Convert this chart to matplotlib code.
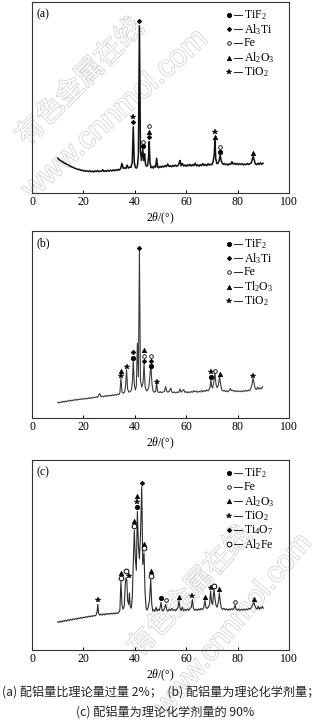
import matplotlib
matplotlib.use('Agg')
import matplotlib.pyplot as plt
import matplotlib.patheffects as pe

plt.rcParams['font.family'] = ['Liberation Serif', 'DejaVu Serif']
plt.rcParams['mathtext.fontset'] = 'custom'
plt.rcParams['mathtext.rm'] = 'Liberation Serif'
plt.rcParams['mathtext.it'] = 'Liberation Serif:italic'

# ---------------- data (2theta in degrees, relative intensity 0-100) ----------------
x_ticks = [0, 20, 40, 60, 80, 100]
x_label = r'$\mathit{2\theta}$/(°)'
panel_tags = ['(a)', '(b)', '(c)']

a_scan = [
    (10, 18.2), (10.5, 17.5), (11, 17.0), (11.5, 16.6), (12, 16.3), (12.5, 15.7), (13, 15.4), (13.5, 15.0), (14, 14.8), (14.5, 14.3),
    (15, 14.0), (15.5, 13.6), (16, 13.5), (16.5, 13.0), (17, 12.8), (17.5, 12.6), (18, 12.2), (18.5, 12.4), (19, 11.8), (19.5, 12.0),
    (20, 11.5), (20.5, 11.8), (21, 11.3), (21.5, 11.6), (22, 11.2), (22.5, 11.7), (23, 11.1), (23.5, 11.5), (24, 11.0), (24.5, 11.6),
    (25, 11.2), (25.5, 11.8), (26, 11.1), (26.5, 11.5), (27, 11.3), (27.5, 12.2), (28, 11.2), (28.5, 11.7), (29, 11.3), (29.5, 11.9),
    (30, 11.4), (30.5, 12.0), (31, 11.5), (31.5, 12.1), (32, 11.6), (32.5, 12.2), (33, 11.8), (33.5, 12.4), (34, 12.0), (34.5, 12.8),
    (35, 15.5), (35.5, 12.9), (36, 13.2), (36.5, 12.8), (37, 14.6), (37.5, 13.0), (38, 13.6), (38.5, 13.4), (39.0, 16.0), (39.4, 34.7),
    (39.8, 16.0), (40.2, 13.5), (40.6, 13.0), (41.0, 14.0), (41.4, 20.0), (41.8, 87.5), (42.2, 22.0), (42.6, 17.0), (43.1, 22.9), (43.5, 17.0),
    (43.8, 20.5), (44.2, 14.8), (44.6, 14.0), (45.0, 14.5), (45.3, 18.0), (45.6, 26.9), (45.9, 16.0), (46.3, 13.2), (46.8, 13.8), (47.2, 13.0),
    (47.7, 14.2), (48.1, 13.5), (48.5, 18.2), (48.9, 13.6), (49.3, 13.2), (49.8, 14.0), (50.3, 13.4), (50.8, 14.1), (51.3, 13.6), (51.8, 14.4),
    (52.3, 13.8), (52.8, 15.2), (53.3, 13.9), (53.8, 14.3), (54.3, 13.7), (54.8, 14.5), (55.3, 13.9), (55.8, 14.6), (56.3, 14.0), (56.8, 14.4),
    (57.3, 15.8), (57.6, 17.0), (58.0, 14.2), (58.5, 15.5), (59.0, 14.1), (59.5, 14.7), (60.0, 14.0), (60.5, 14.8), (61.0, 14.2), (61.5, 15.0),
    (62.0, 14.1), (62.5, 14.9), (63.0, 14.3), (63.5, 15.6), (64.0, 14.2), (64.5, 14.8), (65.0, 14.0), (65.5, 14.9), (66.0, 14.3), (66.5, 15.4),
    (67.0, 14.4), (67.5, 15.0), (68.0, 14.3), (68.5, 15.3), (69.0, 14.6), (69.5, 15.1), (70.0, 14.8), (70.5, 16.5), (70.9, 20.0), (71.2, 27.4),
    (71.5, 18.0), (71.9, 15.5), (72.3, 15.4), (72.8, 16.8), (73.2, 19.9), (73.6, 17.0), (74.0, 15.6), (74.4, 15.0), (74.8, 15.4), (75.3, 14.8),
    (75.8, 15.2), (76.3, 14.6), (76.8, 15.3), (77.3, 15.0), (77.8, 16.4), (78.3, 15.1), (78.8, 15.6), (79.3, 14.9), (79.8, 15.5), (80.3, 14.8),
    (80.8, 15.4), (81.3, 14.9), (81.8, 15.3), (82.3, 14.7), (82.8, 15.2), (83.3, 14.8), (83.8, 15.5), (84.3, 14.9), (84.8, 15.4), (85.3, 15.6),
    (85.8, 18.0), (86.1, 19.0), (86.5, 17.0), (86.9, 15.2), (87.4, 14.8), (87.9, 15.6), (88.4, 14.9), (88.9, 15.8), (89.4, 15.0), (89.9, 15.6),
]

b_scan = [
    (10, 8.4), (10.5, 8.0), (11, 8.6), (11.5, 8.3), (12, 8.9), (12.5, 8.5), (13, 9.1), (13.5, 8.7), (14, 9.3), (14.5, 9.0),
    (15, 9.6), (15.5, 9.1), (16, 9.7), (16.5, 9.4), (17, 10.0), (17.5, 9.5), (18, 10.1), (18.5, 9.8), (19, 10.3), (19.5, 9.9),
    (20, 10.4), (20.5, 10.1), (21, 10.6), (21.5, 10.2), (22, 10.8), (22.5, 10.4), (23, 11.0), (23.5, 10.6), (24, 11.1), (24.5, 10.9),
    (25, 11.3), (25.5, 11.0), (26, 12.5), (26.4, 13.0), (26.8, 11.4), (27.3, 11.8), (27.8, 11.3), (28.3, 11.9), (28.8, 11.5), (29.3, 12.1),
    (29.8, 11.7), (30.3, 12.2), (30.8, 11.8), (31.3, 12.4), (31.8, 12.0), (32.3, 12.6), (32.8, 12.2), (33.3, 12.8), (33.8, 12.5), (34.2, 13.5),
    (34.6, 21.3), (35.0, 14.0), (35.5, 13.2), (36.0, 13.8), (36.4, 17.0), (36.8, 25.8), (37.2, 15.5), (37.7, 13.8), (38.2, 14.2), (38.7, 15.0),
    (39.1, 20.0), (39.4, 31.2), (39.8, 18.0), (40.2, 15.0), (40.6, 17.0), (41.0, 40.1), (41.4, 22.0), (41.8, 89.5), (42.2, 20.0), (42.7, 16.5),
    (43.2, 19.0), (43.6, 29.5), (44.0, 17.0), (44.5, 14.5), (45.0, 14.8), (45.5, 17.0), (46.0, 25.0), (46.3, 26.9), (46.7, 18.0), (47.1, 14.5),
    (47.6, 13.8), (48.1, 14.2), (48.5, 18.8), (48.9, 14.0), (49.4, 13.6), (49.9, 14.1), (50.4, 13.5), (50.9, 13.9), (51.5, 14.2), (52.0, 16.8),
    (52.4, 14.3), (52.9, 13.8), (53.5, 14.5), (54.0, 16.0), (54.4, 13.9), (54.9, 13.5), (55.4, 14.0), (55.9, 13.4), (56.4, 13.9), (56.9, 13.6),
    (57.3, 14.4), (57.6, 15.6), (58.0, 13.8), (58.5, 14.5), (59.0, 15.2), (59.5, 13.7), (60.0, 14.1), (60.5, 13.5), (61.0, 14.0), (61.5, 13.6),
    (62.0, 14.2), (62.5, 13.8), (63.0, 14.6), (63.5, 14.0), (64.0, 14.4), (64.5, 13.7), (65.0, 14.3), (65.5, 13.9), (66.0, 14.7), (66.5, 14.0),
    (67.0, 14.8), (67.5, 14.2), (68.0, 15.0), (68.5, 14.5), (69.0, 15.4), (69.3, 16.5), (69.6, 20.4), (69.9, 17.0), (70.3, 16.0), (70.8, 20.0),
    (71.2, 24.0), (71.6, 18.0), (72.0, 16.2), (72.5, 17.5), (73.0, 22.2), (73.4, 18.0), (73.8, 15.2), (74.3, 14.4), (74.8, 14.8), (75.3, 14.1),
    (75.8, 14.6), (76.3, 14.0), (76.8, 14.9), (77.2, 15.8), (77.6, 14.6), (78.1, 14.9), (78.6, 14.2), (79.1, 14.7), (79.6, 14.0), (80.1, 14.6),
    (80.6, 14.1), (81.1, 14.5), (81.6, 14.0), (82.1, 14.6), (82.6, 14.2), (83.1, 14.8), (83.6, 14.3), (84.1, 14.9), (84.6, 14.5), (85.1, 15.6),
    (85.6, 18.0), (86.0, 21.3), (86.4, 18.5), (86.8, 16.0), (87.3, 15.2), (87.8, 16.5), (88.3, 15.4), (88.8, 16.2), (89.3, 15.6), (89.7, 16.8),
]

c_scan = [
    (10, 14.9), (10.5, 14.5), (11, 15.2), (11.5, 14.7), (12, 15.4), (12.5, 15.0), (13, 15.7), (13.5, 15.2), (14, 15.9), (14.5, 15.5),
    (15, 16.1), (15.5, 15.7), (16, 16.4), (16.5, 16.0), (17, 16.7), (17.5, 16.2), (18, 16.9), (18.5, 16.5), (19, 17.1), (19.5, 16.7),
    (20, 17.3), (20.5, 17.0), (21, 17.6), (21.5, 17.2), (22, 17.8), (22.5, 17.4), (23, 18.0), (23.5, 17.6), (24, 18.2), (24.5, 17.9),
    (25.0, 18.6), (25.3, 20.0), (25.6, 24.0), (25.9, 19.5), (26.3, 18.4), (26.8, 18.9), (27.3, 18.3), (27.8, 19.0), (28.3, 18.5), (28.8, 19.2),
    (29.3, 18.7), (29.8, 19.3), (30.3, 18.8), (30.8, 19.4), (31.3, 18.9), (31.8, 19.5), (32.3, 19.0), (32.8, 19.6), (33.3, 19.2), (33.8, 19.8),
    (34.2, 21.0), (34.6, 36.0), (35.0, 24.0), (35.4, 21.5), (35.9, 23.0), (36.3, 35.0), (36.6, 38.0), (36.9, 36.5), (37.2, 26.0), (37.6, 24.0),
    (37.9, 30.0), (38.2, 23.0), (38.6, 22.0), (39.0, 27.0), (39.4, 45.0), (39.8, 63.0), (40.2, 48.0), (40.6, 42.0), (41.0, 73.0), (41.4, 55.0),
    (41.8, 48.0), (42.2, 60.0), (42.7, 86.0), (43.1, 45.0), (43.6, 51.0), (44.0, 30.0), (44.4, 22.0), (44.8, 21.0), (45.2, 22.5), (45.7, 26.0),
    (46.2, 37.0), (46.6, 24.0), (47.0, 20.5), (47.4, 21.2), (47.8, 20.3), (48.3, 22.5), (48.7, 20.6), (49.1, 21.5), (49.6, 20.8), (50.2, 25.0),
    (50.6, 21.0), (51.0, 20.5), (51.5, 21.8), (52.0, 24.0), (52.4, 21.2), (52.9, 20.4), (53.4, 21.6), (53.9, 20.7), (54.4, 21.9), (54.9, 20.8),
    (55.4, 21.3), (55.9, 20.6), (56.4, 21.5), (56.8, 22.3), (57.2, 26.0), (57.6, 22.0), (58.0, 20.8), (58.5, 22.5), (59.0, 20.6), (59.5, 21.4),
    (60.0, 20.9), (60.5, 21.6), (61.0, 20.8), (61.5, 21.9), (62.0, 22.5), (62.4, 26.5), (62.8, 22.0), (63.3, 20.9), (63.8, 21.5), (64.3, 20.8),
    (64.8, 21.7), (65.3, 21.0), (65.8, 21.9), (66.3, 21.2), (66.8, 22.3), (67.3, 26.0), (67.7, 22.5), (68.1, 21.8), (68.6, 22.6), (69.1, 24.0),
    (69.5, 31.0), (69.9, 25.0), (70.3, 24.0), (70.8, 32.0), (71.2, 27.0), (71.6, 23.5), (72.0, 22.5), (72.5, 25.0), (72.9, 30.0), (73.3, 25.0),
    (73.7, 22.0), (74.2, 21.3), (74.7, 21.9), (75.2, 21.1), (75.7, 21.7), (76.2, 20.9), (76.7, 21.6), (77.2, 21.0), (77.7, 21.8), (78.2, 21.2),
    (78.6, 22.0), (79.0, 23.5), (79.4, 21.5), (79.9, 20.9), (80.4, 21.5), (80.9, 20.8), (81.4, 21.4), (81.9, 20.9), (82.4, 21.6), (82.9, 21.0),
    (83.4, 21.7), (83.9, 21.1), (84.4, 21.9), (84.9, 21.5), (85.4, 22.5), (85.9, 24.0), (86.4, 25.0), (86.8, 23.0), (87.2, 22.0), (87.6, 21.5),
    (88.0, 23.0), (88.4, 21.4), (88.8, 22.4), (89.2, 21.8), (89.6, 23.0), (90.0, 22.0),
]

# phase labels per panel (legend order)
a_phases = ['TiF2', 'Al3Ti', 'Fe', 'Al2O3', 'TiO2']
b_phases = ['TiF2', 'Al3Ti', 'Fe', 'Tl2O3', 'TiO2']
c_phases = ['TiF2', 'Fe', 'Al2O3', 'TiO2', 'Ti4O7', 'Al2Fe']

# peak identification markers: (2theta, height)
a_marks = {
    'TiF2': [(43.1, 24.6), (73.2, 21.6)],
    'Al3Ti': [(39.4, 37.0), (41.8, 89.8), (45.6, 29.5)],
    'Fe': [(43.1, 26.9), (45.6, 35.1), (73.2, 24.2)],
    'Al2O3': [(45.6, 32.1), (71.2, 29.5), (86.1, 21.1)],
    'TiO2': [(39.4, 39.6), (71.2, 31.8)],
}
b_marks = {
    'TiF2': [(39.4, 32.1), (46.3, 28.0), (69.6, 21.9)],
    'Al3Ti': [(39.4, 35.1), (41.8, 90.7), (43.6, 30.6), (46.3, 30.6)],
    'Fe': [(43.6, 33.3), (46.3, 33.3), (71.2, 24.9)],
    'Tl2O3': [(34.6, 25.3), (43.6, 36.2), (73.2, 23.7)],
    'TiO2': [(34.6, 22.2), (36.8, 27.1), (48.5, 19.5), (69.6, 24.6), (86.1, 22.2)],
}
c_marks = {
    'TiF2': [(41.0, 75.4), (50.2, 27.5)],
    'Fe': [(52.0, 26.3), (79.0, 25.4)],
    'Al2O3': [(34.6, 40.4), (39.8, 68.1), (41.0, 81.2), (43.6, 55.6), (46.2, 41.6),
              (57.2, 28.1), (67.3, 28.1), (72.9, 31.9), (86.4, 26.8)],
    'TiO2': [(25.6, 26.3), (37.9, 38.9), (41.0, 78.1), (62.4, 28.6), (69.5, 32.8)],
    'Ti4O7': [(42.7, 87.7)],
    'Al2Fe': [(34.6, 38.1), (36.5, 41.6), (39.8, 65.4), (43.6, 53.5), (46.2, 39.1), (70.8, 33.9)],
}

caption_1 = '(a) 配铝量比理论量过量 2%；  (b) 配铝量为理论化学剂量；'
caption_2 = '(c) 配铝量为理论化学剂量的 90%'
watermark_cn = '有色金属在线'
watermark_url = 'www.cnnmol.com'

# ---------------- styles ----------------
LABELS = {
    'TiF2': 'TiF$_2$', 'Al3Ti': 'Al$_3$Ti', 'Fe': 'Fe', 'Al2O3': 'Al$_2$O$_3$',
    'TiO2': 'TiO$_2$', 'Tl2O3': 'Tl$_2$O$_3$', 'Ti4O7': 'Ti$_4$O$_7$', 'Al2Fe': 'Al$_2$Fe',
}
STYLE = {
    'TiF2': dict(marker='o', ms=3.2, mfc='black', mec='black', mew=0.5),
    'Al3Ti': dict(marker='D', ms=2.3, mfc='black', mec='black', mew=0.5),
    'Fe': dict(marker='o', ms=2.6, mfc='white', mec='black', mew=0.6),
    'Al2O3': dict(marker='^', ms=3.2, mfc='black', mec='black', mew=0.5),
    'TiO2': dict(marker='*', ms=4.0, mfc='black', mec='black', mew=0.3),
    'Tl2O3': dict(marker='^', ms=3.2, mfc='black', mec='black', mew=0.5),
    'Ti4O7': dict(marker='D', ms=2.3, mfc='black', mec='black', mew=0.5),
    'Al2Fe': dict(marker='o', ms=3.4, mfc='white', mec='black', mew=0.7),
}

W, H = 323, 723
fig = plt.figure(figsize=(W / 100, H / 100), dpi=100)
fig.patch.set_facecolor('white')


def make_axes(top, bottom, left=32, right=289):
    ax = fig.add_axes([left / W, 1 - bottom / H, (right - left) / W, (bottom - top) / H])
    ax.patch.set_alpha(0)
    return ax, bottom - top


def draw_panel(ax, h_px, scan, marks, phases, tag, lw, color):
    xs = [p[0] for p in scan]
    ys = [p[1] for p in scan]
    ax.plot(xs, ys, color=color, lw=lw, zorder=2)
    for key, pts in marks.items():
        ax.plot([p[0] for p in pts], [p[1] for p in pts], linestyle='none',
                zorder=3, **STYLE[key])
    ax.set_xlim(0, 100)
    ax.set_ylim(0, 100)
    ax.set_xticks(x_ticks)
    ax.set_yticks([])
    ax.tick_params(axis='x', direction='in', length=2.5, width=0.7, pad=2.2,
                   labelsize=8.5, colors='black')
    for s in ax.spines.values():
        s.set_linewidth(0.8)
        s.set_color('#333333')
    ax.set_xlabel(x_label, fontsize=8.5, labelpad=1.5)
    ax.text(0.016, 1 - 12 / h_px, tag, transform=ax.transAxes, fontsize=8.5,
            va='center', ha='left')
    for i, key in enumerate(phases):
        yf = 1 - (12.8 + 14.3 * i) / h_px
        ax.plot([0.767], [yf], transform=ax.transAxes, linestyle='none',
                clip_on=False, zorder=4, **STYLE[key])
        ax.plot([0.787, 0.817], [yf, yf], transform=ax.transAxes, color='black',
                lw=0.6, zorder=4)
        ax.text(0.824, yf, LABELS[key], transform=ax.transAxes, fontsize=8.5,
                va='center', ha='left')


ax_a, ha = make_axes(2, 193)
ax_b, hb = make_axes(231, 418)
ax_c, hc = make_axes(460, 650)
draw_panel(ax_a, ha, a_scan, a_marks, a_phases, panel_tags[0], 1.1, '#111111')
draw_panel(ax_b, hb, b_scan, b_marks, b_phases, panel_tags[1], 0.8, '#3a3a3a')
draw_panel(ax_c, hc, c_scan, c_marks, c_phases, panel_tags[2], 0.8, '#2a2a2a')

# captions (fit line 1 to the figure width)
cap_font = ['Noto Sans CJK SC', 'DejaVu Sans']
t1 = fig.text(2 / W, 1 - 692 / H, caption_1, family=cap_font, fontsize=9,
              ha='left', va='center', color='#222222')
renderer = fig.canvas.get_renderer()
w1 = t1.get_window_extent(renderer).width
fs = 9 * 318.0 / w1
t1.set_fontsize(fs)
fig.text(165 / W, 1 - 712 / H, caption_2, family=cap_font, fontsize=fs,
         ha='center', va='center', color='#222222')

# faint site watermarks
wm_fx = [pe.Stroke(linewidth=1.0, foreground='#cccccc'), pe.Normal()]
for (cx, cy, txt, fam, fs_w, rot) in [
    (80, 82, watermark_cn, cap_font, 20, 45),
    (115, 115, watermark_url, ['Liberation Sans'], 22, 42),
    (190, 592, watermark_cn, cap_font, 20, 47),
    (233, 625, watermark_url, ['Liberation Sans'], 21, 50),
]:
    fig.text(cx / W, 1 - cy / H, txt, family=fam, fontsize=fs_w, rotation=rot,
             rotation_mode='anchor', ha='center', va='center', color='white',
             path_effects=wm_fx, zorder=-5)

fig.savefig('out.png', dpi=100, facecolor='white')
